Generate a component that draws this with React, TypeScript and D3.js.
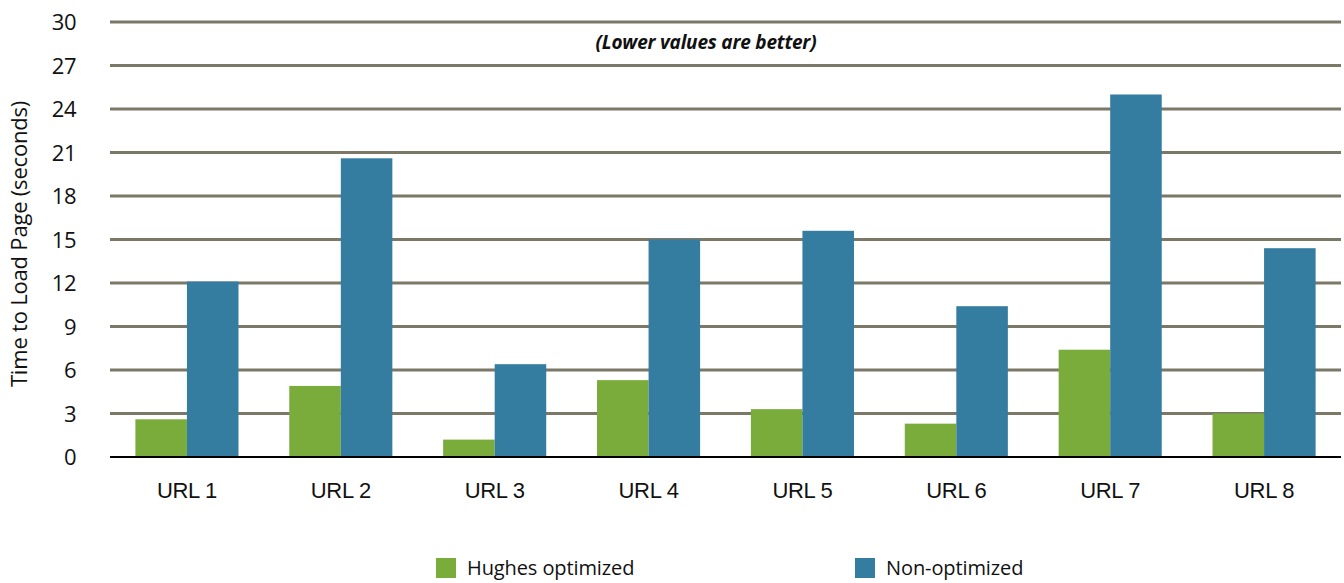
import React, { useEffect, useRef } from 'react';
import * as d3 from 'd3';

const categories = ['URL 1', 'URL 2', 'URL 3', 'URL 4', 'URL 5', 'URL 6', 'URL 7', 'URL 8'];
const hughes = [2.6, 4.9, 1.2, 5.3, 3.3, 2.3, 7.4, 3.0];
const nonOptimized = [12.1, 20.6, 6.4, 15.0, 15.6, 10.4, 25.0, 14.4];
const yTicks = [0, 3, 6, 9, 12, 15, 18, 21, 24, 27, 30];
const seriesNames = ['Hughes optimized', 'Non-optimized'];
const colors = ['#7aac3c', '#357da0'];

function App() {
    const ref = useRef<SVGSVGElement>(null);

    useEffect(() => {
        const svg = d3.select(ref.current);
        svg.selectAll('*').remove();

        const left = 110, right = 1341, top = 22, bottom = 457;
        const font = "'Open Sans', sans-serif";

        const x = d3.scaleBand().domain(categories).range([left, right]).paddingInner(0.33).paddingOuter(0.165);
        const y = d3.scaleLinear().domain([0, 30]).range([bottom, top]);
        const x1 = d3.scaleBand().domain(seriesNames).range([0, x.bandwidth()]);

        // gridlines
        svg.append('g')
            .selectAll('line')
            .data(yTicks.filter(d => d > 0))
            .enter()
            .append('line')
            .attr('x1', left).attr('x2', right)
            .attr('y1', d => y(d)).attr('y2', d => y(d))
            .attr('stroke', '#7b7868')
            .attr('stroke-width', 3);

        // tick labels
        svg.append('g')
            .selectAll('text')
            .data(yTicks)
            .enter()
            .append('text')
            .attr('x', 76)
            .attr('y', d => y(d) + 8)
            .attr('text-anchor', 'end')
            .attr('font-family', font)
            .attr('font-size', 22)
            .attr('letter-spacing', -0.5)
            .attr('fill', '#111')
            .text(d => d);

        const data = [hughes, nonOptimized];
        const groups = svg.append('g')
            .selectAll('g')
            .data(categories)
            .enter()
            .append('g')
            .attr('transform', d => `translate(${x(d)},0)`);

        groups.selectAll('rect')
            .data((c, i) => seriesNames.map((s, k) => ({ s, v: data[k][i], k })))
            .enter()
            .append('rect')
            .attr('x', d => x1(d.s)!)
            .attr('width', x1.bandwidth())
            .attr('y', d => y(d.v))
            .attr('height', d => bottom - y(d.v))
            .attr('fill', d => colors[d.k]);

        // baseline
        svg.append('line')
            .attr('x1', left).attr('x2', right)
            .attr('y1', bottom).attr('y2', bottom)
            .attr('stroke', '#000')
            .attr('stroke-width', 2);

        // category labels
        svg.append('g')
            .selectAll('text')
            .data(categories)
            .enter()
            .append('text')
            .attr('x', d => x(d)! + x.bandwidth() / 2)
            .attr('y', 498)
            .attr('text-anchor', 'middle')
            .attr('font-family', 'Liberation Sans, Arial, sans-serif')
            .attr('font-size', 22)
            .attr('letter-spacing', -0.3)
            .attr('fill', '#111')
            .text(d => d);

        // axis title
        svg.append('text')
            .attr('transform', 'translate(27,244) rotate(-90)')
            .attr('text-anchor', 'middle')
            .attr('font-family', font)
            .attr('font-size', 22)
            .attr('letter-spacing', -0.2)
            .attr('fill', '#111')
            .text('Time to Load Page (seconds)');

        // subtitle
        svg.append('text')
            .attr('x', 706)
            .attr('y', 49)
            .attr('text-anchor', 'middle')
            .attr('font-family', font)
            .attr('font-size', 19)
            .attr('font-style', 'italic')
            .attr('font-weight', 'bold')
            .attr('letter-spacing', -0.2)
            .attr('fill', '#111')
            .text('(Lower values are better)');

        // legend
        const legendX = [436, 855];
        const legend = svg.append('g')
            .selectAll('g')
            .data(seriesNames)
            .enter()
            .append('g')
            .attr('transform', (d, i) => `translate(${legendX[i]},558)`);
        legend.append('rect')
            .attr('width', 20).attr('height', 20)
            .attr('fill', (d, i) => colors[i]);
        legend.append('text')
            .attr('x', 31)
            .attr('y', 17)
            .attr('font-family', font)
            .attr('font-size', 20)
            .attr('letter-spacing', -0.1)
            .attr('fill', '#111')
            .text(d => d);
    }, []);

    return <svg ref={ref} width={1344} height={583} style={{ position: 'absolute', left: 0, top: 0 }}></svg>;
}

export default App;
